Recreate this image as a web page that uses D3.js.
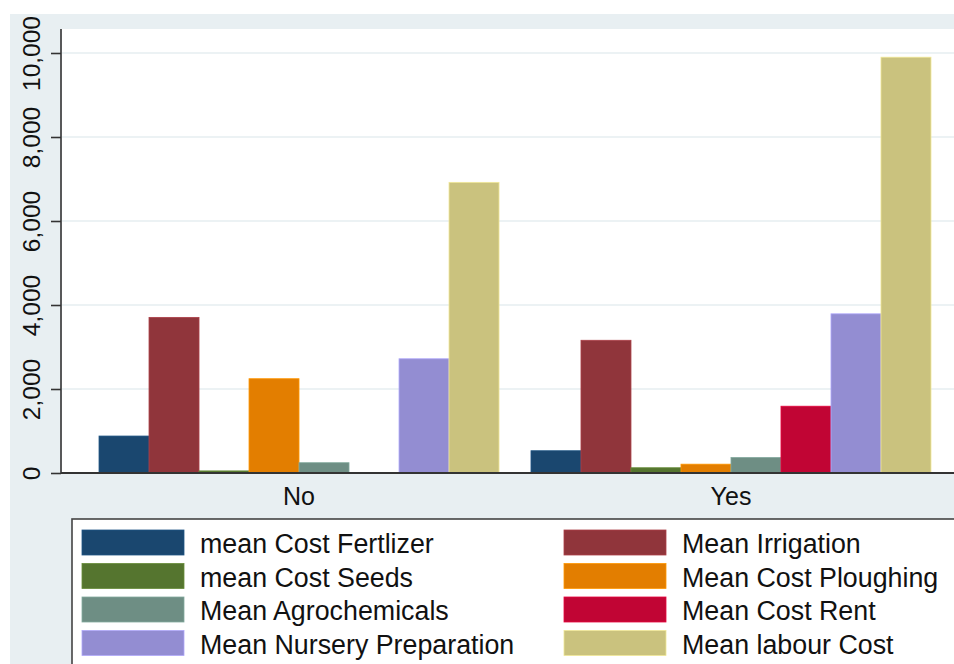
<!DOCTYPE html>
<html>
<head>
<meta charset="utf-8">
<script src="https://cdn.jsdelivr.net/npm/d3@7"></script>
<style>
  html, body { margin: 0; padding: 0; background: #ffffff; }
  svg { display: block; }
  text { font-family: Arial, "Liberation Sans", sans-serif; fill: #111; }
</style>
</head>
<body>
<svg id="chart" width="954" height="664"></svg>
<script>
// ---- data ----
const groups = ["No", "Yes"];
const seriesNames = [
  "mean Cost Fertlizer", "Mean Irrigation", "mean Cost Seeds", "Mean Cost Ploughing",
  "Mean Agrochemicals", "Mean Cost Rent", "Mean Nursery Preparation", "Mean labour Cost"
];
const seriesColors = ["#1a476f", "#90353b", "#55752f", "#e37e00", "#6e8e84", "#c10534", "#938dd2", "#cac27e"];
const valuesNo  = [880, 3705, 50, 2245, 245, 0, 2720, 6920];
const valuesYes = [530, 3160, 125, 210, 370, 1590, 3790, 9900];
const yTicks = [0, 2000, 4000, 6000, 8000, 10000];

// ---- layout ----
const svg = d3.select("#chart");
const W = 954, H = 664;
const plotLeft = 62, plotTop = 29, plotBottom = 473, plotRight = 969;

// outer background
svg.append("rect").attr("x", 10).attr("y", 14).attr("width", W).attr("height", H)
  .attr("fill", "#e8eff2");
// plot region
svg.append("rect").attr("x", plotLeft).attr("y", plotTop)
  .attr("width", W - plotLeft).attr("height", plotBottom - plotTop).attr("fill", "#ffffff");

const y = d3.scaleLinear().domain([0, 10000]).range([plotBottom, 53]);
const x0 = d3.scaleBand().domain(groups).range([61, plotRight])
  .paddingInner(0.074).paddingOuter(0.088);
const x1 = d3.scaleBand().domain(d3.range(seriesNames.length)).range([0, x0.bandwidth()]);

// gridlines
svg.append("g").selectAll("line").data(yTicks.filter(d => d > 0)).join("line")
  .attr("x1", plotLeft).attr("x2", W)
  .attr("y1", d => y(d)).attr("y2", d => y(d))
  .attr("stroke", "#e6eef1").attr("stroke-width", 1.6);

// bars
const data = groups.map((g, i) => ({ g, vals: i === 0 ? valuesNo : valuesYes }));
const gGroups = svg.append("g").selectAll("g").data(data).join("g")
  .attr("transform", d => `translate(${x0(d.g)},0)`);
gGroups.selectAll("rect").data(d => d.vals.map((v, i) => ({ v, i }))).join("rect")
  .attr("x", d => x1(d.i))
  .attr("width", x1.bandwidth())
  .attr("y", d => y(d.v))
  .attr("height", d => y(0) - y(d.v))
  .attr("fill", d => seriesColors[d.i])
  .attr("stroke", d => d3.color(seriesColors[d.i]).brighter(0.5))
  .attr("stroke-width", d => d.v > 0 ? 0.8 : 0);

// y axis
const yAxis = d3.axisLeft(y).tickValues(yTicks).tickSize(10).tickPadding(0)
  .tickFormat(d3.format(","));
const gy = svg.append("g").attr("transform", `translate(61,0)`).call(yAxis);
gy.select(".domain").attr("d", `M0,${plotTop}V${plotBottom}`).attr("stroke", "#333").attr("stroke-width", 1.6);
gy.selectAll(".tick line").attr("stroke", "#333").attr("stroke-width", 1.6);
gy.selectAll(".tick text")
  .attr("x", null).attr("dy", null)
  .attr("transform", "translate(-21.5,0) rotate(-90)")
  .attr("text-anchor", "middle")
  .attr("font-size", 24.5)
  .style("font-family", "Arial, 'Liberation Sans', sans-serif")
  .attr("fill", "#111");

// x axis
const xAxis = d3.axisBottom(x0).tickSize(0).tickPadding(0);
const gx = svg.append("g").attr("transform", `translate(0,${plotBottom})`).call(xAxis);
gx.select(".domain").attr("d", `M${plotLeft - 1},0H${W}`).attr("stroke", "#333").attr("stroke-width", 2);
gx.selectAll(".tick text")
  .attr("y", 32).attr("dy", null)
  .attr("font-size", 25)
  .style("font-family", "Arial, 'Liberation Sans', sans-serif")
  .attr("fill", "#111");

// legend
const legend = svg.append("g");
legend.append("rect").attr("x", 72).attr("y", 519).attr("width", W).attr("height", 200)
  .attr("fill", "#ffffff").attr("stroke", "#444").attr("stroke-width", 1.6);
const colX = [82, 564];
const rowY = [530, 563.5, 597, 630.5];
const items = legend.selectAll("g.item").data(seriesNames).join("g")
  .attr("class", "item")
  .attr("transform", (d, i) => `translate(${colX[i % 2]},${rowY[Math.floor(i / 2)]})`);
items.append("rect").attr("width", 102).attr("height", 25)
  .attr("fill", (d, i) => seriesColors[i])
  .attr("stroke", (d, i) => d3.color(seriesColors[i]).brighter(0.5)).attr("stroke-width", 0.8);
items.append("text").attr("x", 118).attr("y", 23)
  .attr("font-size", 26.8).text(d => d);
</script>
</body>
</html>
